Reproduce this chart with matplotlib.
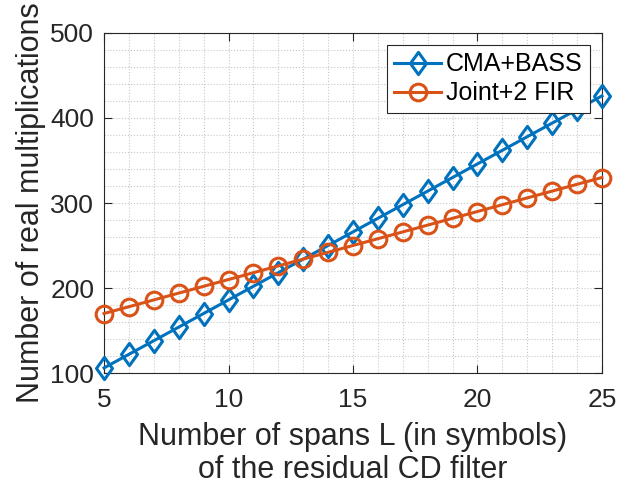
import numpy as np
import matplotlib
matplotlib.use("Agg")
import matplotlib.pyplot as plt
from matplotlib.ticker import MultipleLocator
from matplotlib.path import Path

plt.rcParams['font.family'] = ['Liberation Sans', 'DejaVu Sans']

L = list(range(5, 26))
cma_bass = [106, 122, 138, 154, 170, 186, 202, 218, 234, 250, 266,
            282, 298, 314, 330, 346, 362, 378, 394, 410, 426]
joint_fir = [170, 178, 186, 194, 202, 210, 218, 226, 234, 242, 250,
             258, 266, 274, 282, 290, 298, 306, 314, 322, 330]

# matlab style diamond (a bit taller than wide)
diamond = Path([(0, 1), (0.72, 0), (0, -1), (-0.72, 0), (0, 1)],
               [Path.MOVETO, Path.LINETO, Path.LINETO, Path.LINETO, Path.CLOSEPOLY])

fig = plt.figure(figsize=(6.17, 4.91), dpi=100)
ax = fig.add_axes([0.1686, 0.2403, 0.807, 0.6925])

ax.plot(L, cma_bass, color='#0072BD', lw=2.2, marker=diamond, ms=16,
        mfc='none', mew=2.2, label='CMA+BASS', clip_on=False, zorder=3)
ax.plot(L, joint_fir, color='#D95319', lw=2.2, marker='o', ms=12,
        mfc='none', mew=2.2, label='Joint+2 FIR', clip_on=False, zorder=3)

ax.set_xlim(5, 25)
ax.set_ylim(100, 500)
ax.set_xticks([5, 10, 15, 20, 25])
ax.set_yticks([100, 200, 300, 400, 500])
ax.xaxis.set_minor_locator(MultipleLocator(1))
ax.yaxis.set_minor_locator(MultipleLocator(20))
ax.grid(which='both', ls=':', color='#c8c8c8', lw=0.8)
ax.tick_params(which='major', direction='in', length=6, labelsize=19,
               top=True, right=True, colors='#262626')
ax.tick_params(axis='x', which='major', pad=11)
ax.tick_params(axis='y', which='major', pad=7)
ax.tick_params(which='minor', length=0)
for s in ax.spines.values():
    s.set_color('#262626')
    s.set_linewidth(0.8)

ax.set_xlabel('Number of spans L (in symbols)\nof the residual CD filter',
              fontsize=22, color='#262626', labelpad=7, linespacing=1.12)
ax.set_ylabel('Number of real multiplications', fontsize=22,
              color='#262626', labelpad=3)

leg = ax.legend(loc='upper right', fontsize=18, fancybox=False,
                edgecolor='#262626', framealpha=1, handlelength=1.85,
                bbox_to_anchor=(0.976, 0.965), borderaxespad=0,
                handletextpad=0.2, borderpad=0.3, labelspacing=0.2)
leg.get_frame().set_linewidth(0.8)

fig.savefig('out.png', dpi=100)
